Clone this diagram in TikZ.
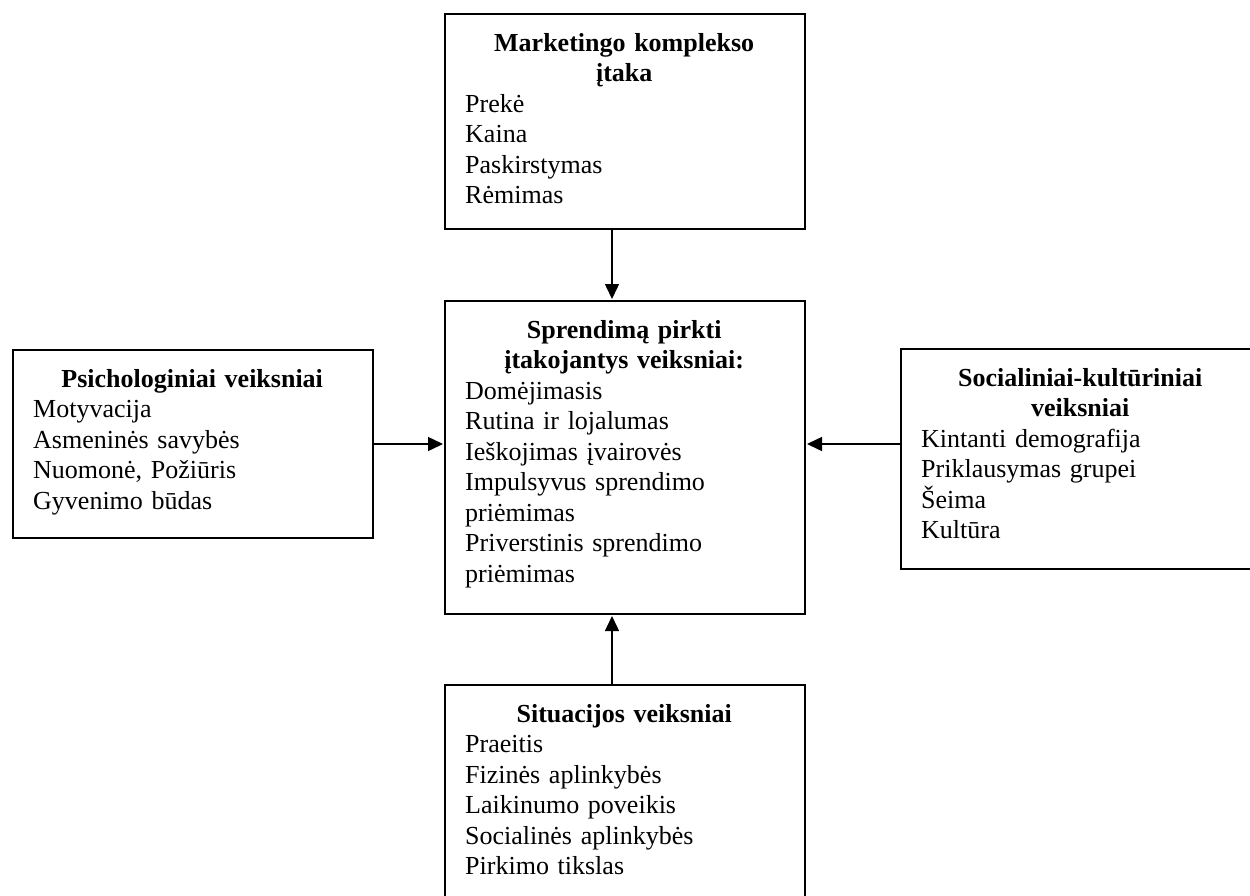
\documentclass[tikz,border=0pt]{standalone}
\usepackage{fontspec}
\setmainfont{Liberation Serif}
\usetikzlibrary{arrows.meta}

\begin{document}
\begin{tikzpicture}[x=1pt,y=-1pt,
  frame/.style={draw, line width=2pt, minimum width=360pt, anchor=north west, inner sep=0pt},
  txt/.style={inner sep=0pt, anchor=base west, text width=318pt,
              font=\fontsize{26}{30.5}\selectfont},
  arr/.style={line width=1.5pt, -{Triangle[length=15pt,width=14pt]}, shorten >=1pt}]

% page area
\useasboundingbox (0,0) rectangle (1250,895);
\fill[white] (0,0) rectangle (1250,895);
\clip (0,0) rectangle (1250,895);

% frames
\node[frame, minimum height=215pt] (mk)  at (444,13)  {};
\node[frame, minimum height=313pt] (cn)  at (444,300) {};
\node[frame, minimum height=188pt] (psy) at (12,349)  {};
\node[frame, minimum height=220pt] (soc) at (900,348) {};
\node[frame, minimum height=230pt] (sit) at (444,684) {};

% texts
\node[txt] (mkt) at (465,51) {{\centering\bfseries Marketingo komplekso\\ įtaka\par}%
  \raggedright Prekė\\ Kaina\\ Paskirstymas\\ Rėmimas};
\node[txt] (cnt) at (465,338) {{\centering\bfseries Sprendimą pirkti\\ įtakojantys veiksniai:\par}%
  \raggedright Domėjimasis\\ Rutina ir lojalumas\\ Ieškojimas įvairovės\\
  Impulsyvus sprendimo\\ priėmimas\\ Priverstinis sprendimo\\ priėmimas};
\node[txt] (psyt) at (33,387) {{\centering\bfseries Psichologiniai veiksniai\par}%
  \raggedright Motyvacija\\ Asmeninės savybės\\ Nuomonė, Požiūris\\ Gyvenimo būdas};
\node[txt] (soct) at (921,386) {{\centering\bfseries Socialiniai-kultūriniai\\ veiksniai\par}%
  \raggedright Kintanti demografija\\ Priklausymas grupei\\ Šeima\\ Kultūra};
\node[txt] (sitt) at (465,722) {{\centering\bfseries Situacijos veiksniai\par}%
  \raggedright Praeitis\\ Fizinės aplinkybės\\ Laikinumo poveikis\\ Socialinės aplinkybės\\ Pirkimo tikslas};

% connectors
\coordinate (vx) at (612,0);
\coordinate (hy) at (0,444);
\draw[arr] (mk.south -| vx) -- (cn.north -| vx);
\draw[arr] (sit.north -| vx) -- (cn.south -| vx);
\draw[arr] (psy.east |- hy) -- (cn.west |- hy);
\draw[arr] (soc.west |- hy) -- (cn.east |- hy);
\end{tikzpicture}
\end{document}
